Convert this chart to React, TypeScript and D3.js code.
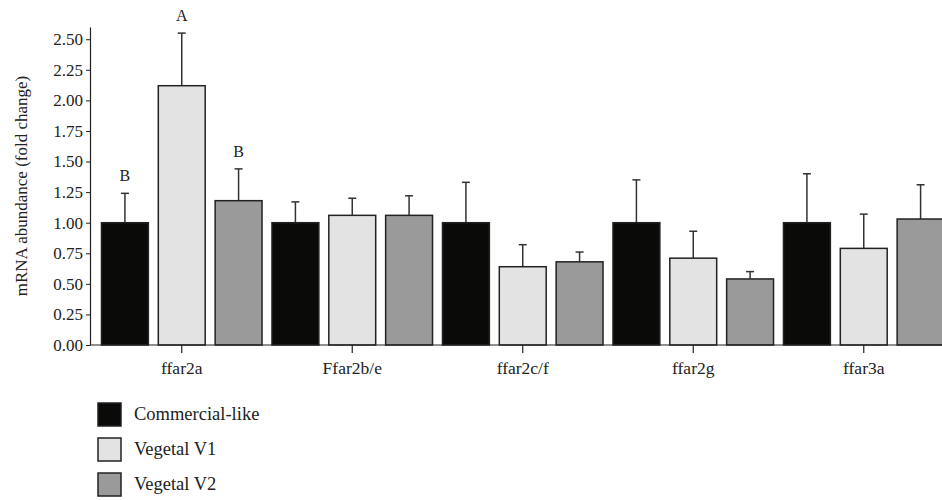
import React, { useRef, useEffect } from 'react';
import * as d3 from 'd3';

const genes = ['ffar2a', 'Ffar2b/e', 'ffar2c/f', 'ffar2g', 'ffar3a'];
const diets = ['Commercial-like', 'Vegetal V1', 'Vegetal V2'];
const dietColors = ['#0a0a08', '#e3e3e3', '#9a9a9a'];

// mean and upper error (mean + SD) per diet, in gene order
const commercialMean = [1.0, 1.0, 1.0, 1.0, 1.0];
const commercialErr = [1.24, 1.17, 1.33, 1.35, 1.4];
const v1Mean = [2.12, 1.06, 0.64, 0.71, 0.79];
const v1Err = [2.55, 1.2, 0.82, 0.93, 1.07];
const v2Mean = [1.18, 1.06, 0.68, 0.54, 1.03];
const v2Err = [1.44, 1.22, 0.76, 0.6, 1.31];

// significance letters (only ffar2a)
const letters = [
  ['B', 'A', 'B'],
  ['', '', ''],
  ['', '', ''],
  ['', '', ''],
  ['', '', ''],
];

const yTicks = [0, 0.25, 0.5, 0.75, 1.0, 1.25, 1.5, 1.75, 2.0, 2.25, 2.5];

const W = 942;
const H = 500;
const FONT = '"Liberation Serif", "Times New Roman", serif';

const App = () => {
  const svgRef = useRef<SVGSVGElement>(null);

  useEffect(() => {
    const svg = d3.select(svgRef.current);
    svg.selectAll('*').remove();

    const axisX = 90;
    const baseY = 345;

    const y = d3.scaleLinear().domain([0, 2.6]).range([baseY, 27]);
    const x0 = d3.scaleBand().domain(genes).range([96.5, 949]).padding(0);
    const x1 = d3.scaleBand()
      .domain(diets)
      .range([0, x0.bandwidth()])
      .paddingInner(0.175)
      .paddingOuter(0.0875);

    const means = [commercialMean, v1Mean, v2Mean];
    const errs = [commercialErr, v1Err, v2Err];

    const rows = genes.flatMap((g, gi) =>
      diets.map((d, di) => ({
        gene: g,
        diet: d,
        di,
        mean: means[di][gi],
        err: errs[di][gi],
        letter: letters[gi][di],
      }))
    );

    const g = svg.append('g');
    const cx = (d: any) => x0(d.gene)! + x1(d.diet)! + x1.bandwidth() / 2;

    // error bars (drawn first so bar outline sits on top)
    const eb = g.selectAll('.err').data(rows).enter().append('g').attr('class', 'err');
    eb.append('line')
      .attr('x1', cx)
      .attr('x2', cx)
      .attr('y1', d => y(d.mean))
      .attr('y2', d => y(d.err))
      .attr('stroke', '#333')
      .attr('stroke-width', 1.5);
    eb.append('line')
      .attr('x1', d => cx(d) - 4)
      .attr('x2', d => cx(d) + 4)
      .attr('y1', d => y(d.err))
      .attr('y2', d => y(d.err))
      .attr('stroke', '#333')
      .attr('stroke-width', 1.5);

    // bars
    g.selectAll('.bar')
      .data(rows)
      .enter()
      .append('rect')
      .attr('class', 'bar')
      .attr('x', d => x0(d.gene)! + x1(d.diet)!)
      .attr('y', d => y(d.mean))
      .attr('width', x1.bandwidth())
      .attr('height', d => baseY - y(d.mean))
      .attr('fill', d => dietColors[d.di])
      .attr('stroke', '#222')
      .attr('stroke-width', 1.5);

    // letters
    g.selectAll('.letter')
      .data(rows.filter(r => r.letter))
      .enter()
      .append('text')
      .attr('x', cx)
      .attr('y', d => y(d.err) - 12)
      .attr('text-anchor', 'middle')
      .style('font-family', FONT)
      .style('font-size', '16px')
      .style('fill', '#222')
      .text(d => d.letter);

    // y axis
    const yAxis = g.append('g')
      .attr('transform', `translate(${axisX},0)`)
      .call(
        d3.axisLeft(y)
          .tickValues(yTicks)
          .tickFormat(d3.format('.2f'))
          .tickSize(4)
          .tickPadding(3)
          .tickSizeOuter(0)
      );
    yAxis.select('.domain').attr('stroke', '#222').attr('stroke-width', 1.2);
    yAxis.selectAll('.tick line').attr('stroke', '#222');
    yAxis.selectAll('.tick text')
      .style('font-family', FONT)
      .style('font-size', '17px')
      .style('fill', '#222');

    // x axis
    const xAxis = g.append('g').attr('transform', `translate(0,${baseY})`);
    xAxis.append('line')
      .attr('x1', axisX)
      .attr('x2', W)
      .attr('y1', 0)
      .attr('y2', 0)
      .attr('stroke', '#222')
      .attr('stroke-width', 1.2);
    const xt = xAxis.selectAll('.xtick').data(genes).enter().append('g')
      .attr('transform', d => `translate(${x0(d)! + x0.bandwidth() / 2},0)`);
    xt.append('line').attr('y1', 0).attr('y2', 8).attr('stroke', '#222').attr('stroke-width', 1.2);
    xt.append('text')
      .attr('y', 29)
      .attr('text-anchor', 'middle')
      .style('font-family', FONT)
      .style('font-size', '17.5px')
      .style('fill', '#222')
      .text(d => d);

    // y label
    svg.append('text')
      .attr('transform', `translate(27,${(y(2.6) + baseY) / 2}) rotate(-90)`)
      .attr('text-anchor', 'middle')
      .style('font-family', FONT)
      .style('font-size', '17px')
      .style('fill', '#222')
      .text('mRNA abundance (fold change)');

    // legend
    const legend = svg.selectAll('.legend').data(diets).enter().append('g')
      .attr('transform', (d, i) => `translate(98,${403 + i * 35})`);
    legend.append('rect')
      .attr('width', 23)
      .attr('height', 23)
      .attr('fill', (d, i) => dietColors[i])
      .attr('stroke', '#222')
      .attr('stroke-width', 1.5);
    legend.append('text')
      .attr('x', 36)
      .attr('y', 17)
      .style('font-family', FONT)
      .style('font-size', '18.5px')
      .style('fill', '#222')
      .text(d => d);
  }, []);

  return (
    <svg
      ref={svgRef}
      width={W}
      height={H}
      style={{ position: 'absolute', left: 0, top: 0, display: 'block', background: 'white' }}
    />
  );
};

export default App;
